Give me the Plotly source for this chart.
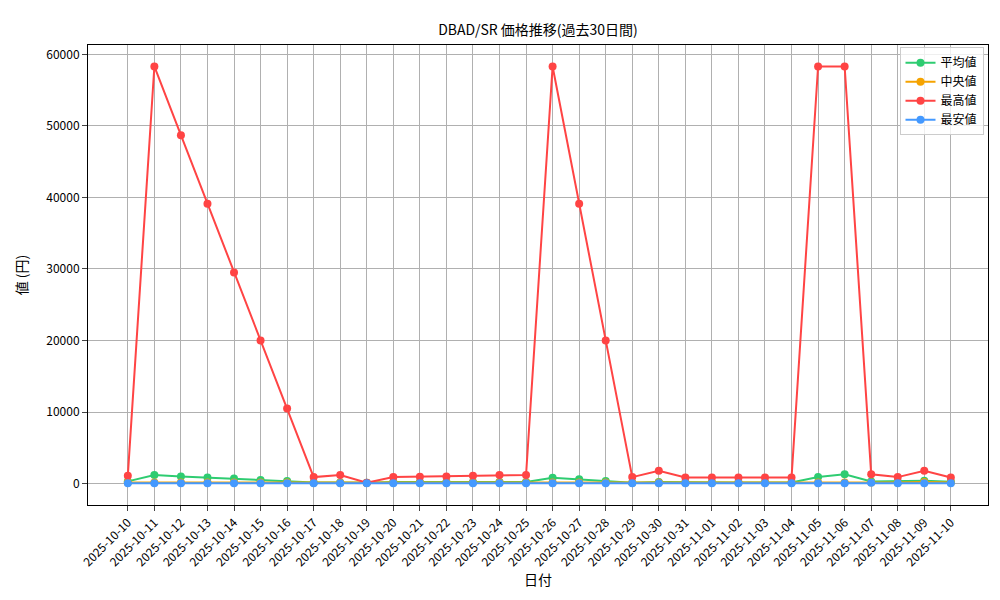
import plotly.graph_objects as go
import pandas as pd

dates = [d.strftime("%Y-%m-%d") for d in pd.date_range("2025-10-10", "2025-11-10")]
avg_v = [300,1200,1000,850,700,500,350,150,150,100,200,200,200,200,200,200,800,600,350,100,200,150,150,150,150,150,900,1300,300,300,400,250]
med_v = [150,150,150,150,150,150,150,100,100,80,150,150,150,150,150,150,150,150,150,100,150,150,150,150,150,150,150,150,150,150,200,150]
max_v = [1100,58300,48700,39100,29500,20000,10500,900,1200,100,900,950,1000,1100,1200,1200,58300,39100,20000,900,1800,850,850,850,850,850,58300,58300,1300,900,1800,850]
min_v = [50,50,50,50,50,50,50,50,50,50,50,50,50,50,50,50,50,50,50,50,50,50,50,50,50,50,50,50,100,50,50,50]

fig = go.Figure()
for name, vals, col in [("平均値", avg_v, "#2ecc71"), ("中央値", med_v, "#f5a300"),
                        ("最高値", max_v, "#ff4444"), ("最安値", min_v, "#4499ff")]:
    fig.add_trace(go.Scatter(x=dates, y=vals, name=name, mode="lines+markers",
                             line=dict(color=col, width=2), marker=dict(size=8, color=col)))
ax = dict(showgrid=True, gridcolor="#b0b0b0", showline=True, linecolor="black", mirror=True,
          ticks="outside", zeroline=False)
fig.update_layout(
    width=1000, height=600, template="simple_white",
    font=dict(family="Noto Sans CJK JP, DejaVu Sans Mono", size=12, color="black"),
    title=dict(text="DBAD/SR 価格推移(過去30日間)", x=0.53, xanchor="center", y=0.963, yanchor="middle", font=dict(size=14)),
    margin=dict(l=80, r=20, t=37, b=103, pad=0),
    xaxis=dict(ax, title=dict(text="日付", standoff=5), tickangle=-45, type="category", range=[-1.5, 32.4]),
    yaxis=dict(ax, title=dict(text="値 (円)"), range=[-3000, 61300], tickformat="d", dtick=10000),
    legend=dict(x=0.995, y=0.995, xanchor="right", yanchor="top", bordercolor="#cccccc", borderwidth=1,
                bgcolor="rgba(255,255,255,0.8)"),
    plot_bgcolor="white",
)
fig.update_layout(yaxis_domain=[0, 1], margin_autoexpand=False)
fig.write_html("out.html")
